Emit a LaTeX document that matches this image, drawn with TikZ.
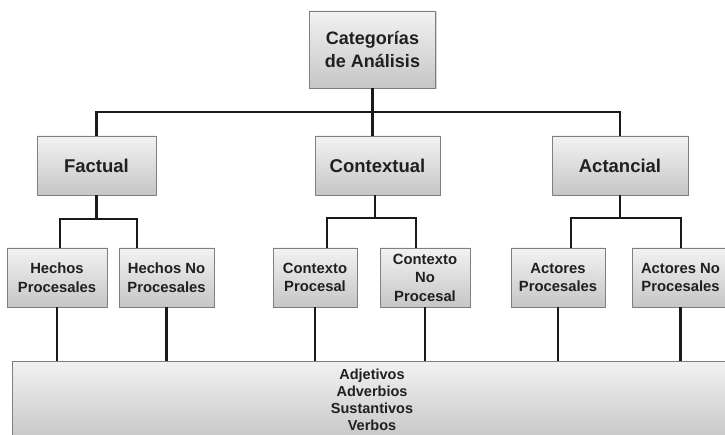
\documentclass[tikz,border=0pt]{standalone}
\usepackage{fontspec}
\setmainfont{Liberation Sans}
\usetikzlibrary{shadows}
\definecolor{boxline}{HTML}{7F7F7F}
\definecolor{boxtop}{HTML}{F2F2F2}
\definecolor{boxbottom}{HTML}{C6C6C6}
\definecolor{boxtext}{HTML}{202020}
\definecolor{linecol}{HTML}{1A1A1A}
\begin{document}
\begin{tikzpicture}
                [
                x=1pt,y=-1pt,
                box/.style={rectangle,draw=boxline,line width=0.8pt,
                  top color=boxtop,bottom color=boxbottom,
                  drop shadow={opacity=0.35,shadow xshift=1.2pt,shadow yshift=-1.5pt},
                  text=boxtext,align=center,inner sep=0pt},
                head/.style={box,minimum width=126pt,minimum height=77pt,
                  font=\fontsize{18}{23}\selectfont\bfseries},
                group/.style={box,minimum height=59pt,
                  font=\fontsize{18.5}{21}\selectfont\bfseries},
                leaf/.style={box,minimum height=59pt,
                  font=\fontsize{14.8}{18.5}\selectfont\bfseries},
                base/.style={box,minimum width=728pt,minimum height=80pt},
                words/.style={text=boxtext,align=center,inner sep=0pt,
                  font=\fontsize{14.5}{17}\selectfont\bfseries},
                link/.style={draw=linecol,line width=2.6pt}
                ]
            \useasboundingbox (0,0) rectangle (725,435);
            \clip (0,0) rectangle (725,435);
            \node[head] (cat) at (372.5,49.5) {Categorías\\de Análisis};
            \node[group,minimum width=119pt] (fac) at (96.5,165.5) {Factual};
            \node[group,minimum width=125pt] (ctx) at (377.5,165.5) {Contextual};
            \node[group,minimum width=136pt] (act) at (620,165.5) {Actancial};
            \node[leaf,minimum width=100pt] (hp) at (57,277.5) {Hechos\\Procesales};
            \node[leaf,minimum width=95pt] (hnp) at (166.5,277.5) {Hechos No\\Procesales};
            \node[leaf,minimum width=84pt] (cp) at (315,277.5) {Contexto\\Procesal};
            \node[leaf,minimum width=90pt] (cnp) at (425,277.5) {Contexto\\No\\Procesal};
            \node[leaf,minimum width=94pt] (ap) at (558,277.5) {Actores\\Procesales};
            \node[leaf,minimum width=97pt] (anp) at (680.5,277.5) {Actores No\\Procesales};
            \node[base] (base) at (376,401) {};
            \node[words] (pos) at (372,399.5) {Adjetivos\\Adverbios\\Sustantivos\\Verbos};
            \coordinate (hub) at (372.5,112);
            \coordinate (facbar) at (96.5,219);
            \coordinate (ctxbar) at (375,218);
            \coordinate (actbar) at (620,218);
            \draw[link] (cat.south) -- (hub);
            \draw[link] (fac.north) |- (hub) -| (act.north);
            \draw[link] (hub) -- (hub |- ctx.north);
            \draw[link] (fac.south) -- (facbar);
            \draw[link] ([xshift=3pt]hp.north) |- (facbar) -| ([xshift=-29.5pt]hnp.north);
            \draw[link] (ctxbar |- ctx.south) -- (ctxbar);
            \draw[link] ([xshift=12pt]cp.north) |- (ctxbar) -| ([xshift=-9pt]cnp.north);
            \draw[link] (act.south) -- (actbar);
            \draw[link] ([xshift=13pt]ap.north) |- (actbar) -| ([xshift=0.5pt]anp.north);
            \draw[link] (hp.south) -- (hp.south |- base.north);
            \draw[link] (hnp.south) -- (hnp.south |- base.north);
            \draw[link] (cp.south) -- (cp.south |- base.north);
            \draw[link] (cnp.south) -- (cnp.south |- base.north);
            \draw[link] (ap.south) -- (ap.south |- base.north);
            \draw[link] (anp.south) -- (anp.south |- base.north);
            \end{tikzpicture}
\end{document}
